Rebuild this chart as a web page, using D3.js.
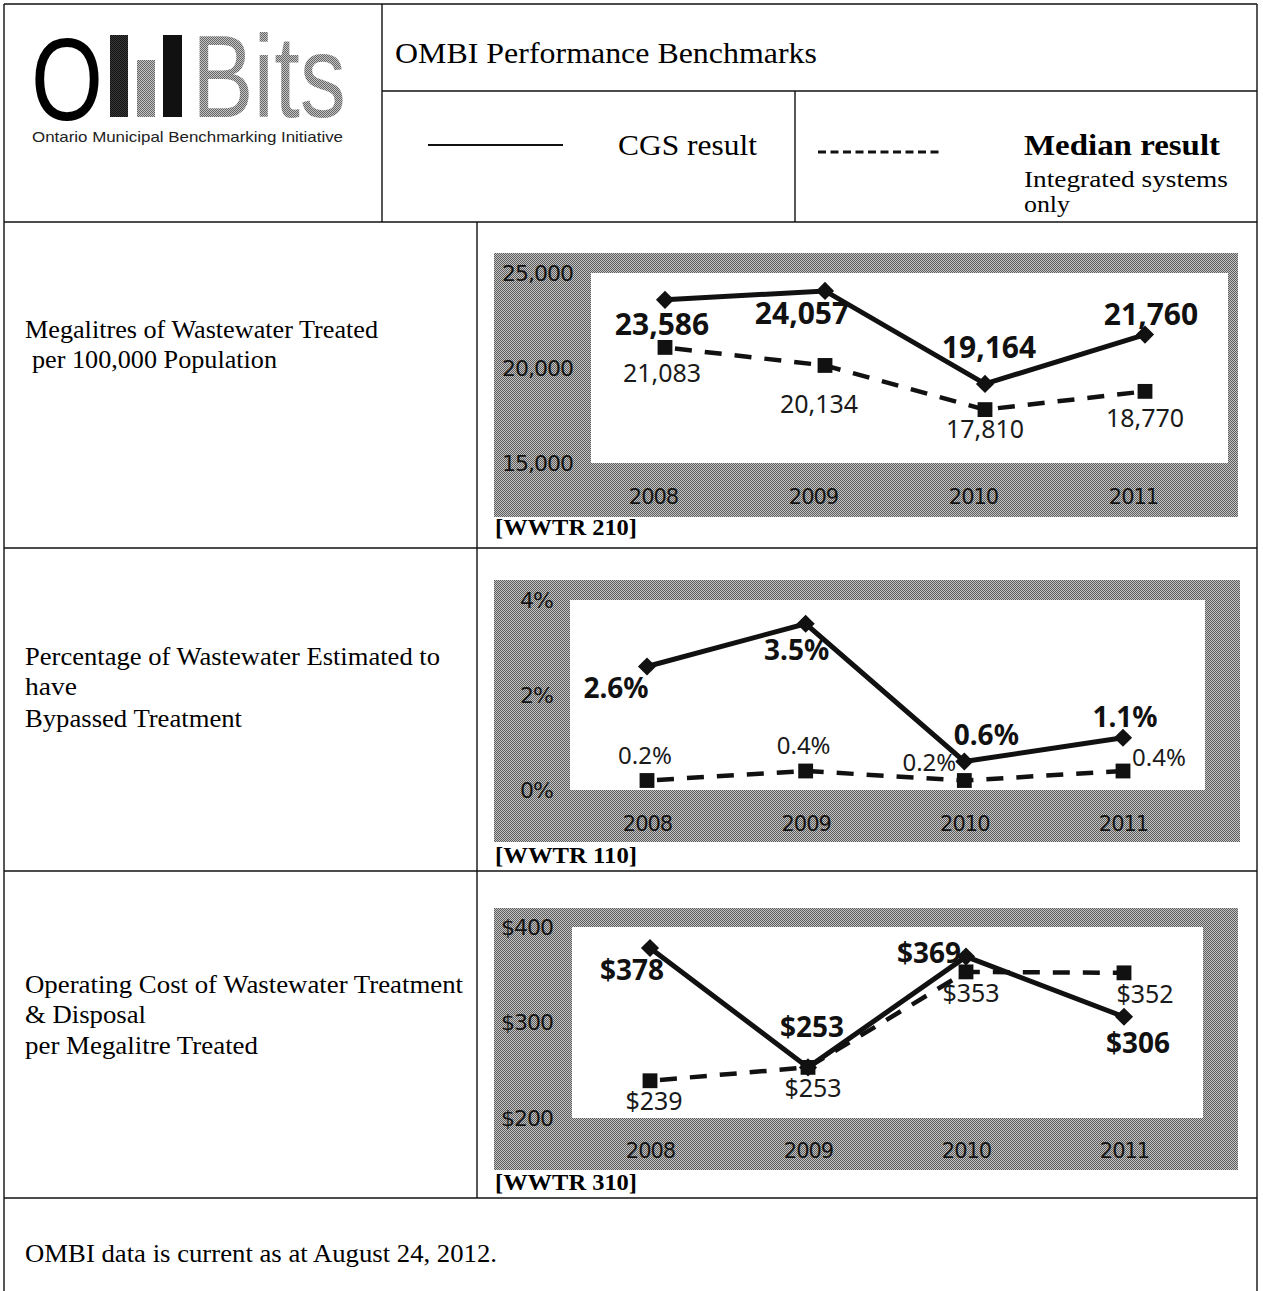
<!DOCTYPE html>
<html>
<head>
<meta charset="utf-8">
<script src="https://cdn.jsdelivr.net/npm/d3@7"></script>
<style>
  html, body { margin: 0; padding: 0; background: #fff; }
  svg { display: block; }
</style>
</head>
<body>
<script>
// ---- Data ----
const years = ["2008", "2009", "2010", "2011"];

// Megalitres of wastewater treated per 100,000 population
const treatedCGS = [23586, 24057, 19164, 21760];
const treatedMedian = [21083, 20134, 17810, 18770];
const treatedTicks = [15000, 20000, 25000];

// Percentage of wastewater estimated to have bypassed treatment
const bypassCGS = [2.6, 3.5, 0.6, 1.1];
const bypassMedian = [0.2, 0.4, 0.2, 0.4];
const bypassTicks = [0, 2, 4];

// Operating cost of wastewater treatment & disposal per megalitre
const costCGS = [378, 253, 369, 306];
const costMedian = [239, 253, 353, 352];
const costTicks = [200, 300, 400];

// ---- Page ----
const W = 1263, H = 1291;
const svg = d3.select("body").append("svg").attr("width", W).attr("height", H);
const defs = svg.append("defs");

function halftone(id, base, dot) {
  const p = defs.append("pattern").attr("id", id)
    .attr("width", 2).attr("height", 2).attr("patternUnits", "userSpaceOnUse");
  p.append("rect").attr("width", 2).attr("height", 2).attr("fill", base);
  p.append("rect").attr("x", 0).attr("y", 0).attr("width", 1).attr("height", 1).attr("fill", dot);
  p.append("rect").attr("x", 1).attr("y", 1).attr("width", 1).attr("height", 1).attr("fill", dot);
}
halftone("panelTone", "#c2c2c2", "#5e5e5e");
halftone("darkTone", "#3a3a3a", "#111");
halftone("midTone", "#c4c4c4", "#666");

const SERIF = "'Liberation Serif','Times New Roman',serif";
const SANS = "'Noto Sans','DejaVu Sans',sans-serif";

function serifText(str, x, y, size, width, bold) {
  svg.append("text")
    .attr("x", x).attr("y", y)
    .attr("font-family", SERIF)
    .attr("font-size", size)
    .attr("font-weight", bold ? "bold" : "normal")
    .attr("fill", "#000")
    .attr("textLength", width)
    .attr("lengthAdjust", "spacingAndGlyphs")
    .text(str);
}

// ---- Table rules ----
const rules = [
  [4, 4, 1257, 4],
  [4, 4, 4, H],
  [1257, 4, 1257, H],
  [382, 4, 382, 222],
  [382, 91, 1257, 91],
  [795, 91, 795, 222],
  [4, 222, 1257, 222],
  [477, 222, 477, 1198],
  [4, 548, 1257, 548],
  [4, 871, 1257, 871],
  [4, 1198, 1257, 1198]
];
svg.append("g").selectAll("line").data(rules).join("line")
  .attr("x1", d => d[0]).attr("y1", d => d[1])
  .attr("x2", d => d[2]).attr("y2", d => d[3])
  .attr("stroke", "#111").attr("stroke-width", 1.4);

// ---- Logo ----
const logo = svg.append("g");
logo.append("text")
  .attr("x", 31).attr("y", 120)
  .attr("font-family", "'Liberation Sans',Arial,sans-serif")
  .attr("font-size", 117)
  .attr("fill", "#000")
  .attr("textLength", 72).attr("lengthAdjust", "spacingAndGlyphs")
  .text("O");
logo.append("rect").attr("x", 110).attr("y", 35).attr("width", 18).attr("height", 82).attr("fill", "url(#darkTone)");
logo.append("rect").attr("x", 137).attr("y", 60).attr("width", 18).attr("height", 57).attr("fill", "url(#midTone)");
logo.append("rect").attr("x", 163).attr("y", 35).attr("width", 19).attr("height", 82).attr("fill", "#111");
logo.append("text")
  .attr("x", 192).attr("y", 117)
  .attr("font-family", "'Liberation Sans',Arial,sans-serif")
  .attr("font-size", 116)
  .attr("fill", "url(#midTone)")
  .attr("textLength", 154).attr("lengthAdjust", "spacingAndGlyphs")
  .text("Bits");
logo.append("text")
  .attr("x", 32).attr("y", 142)
  .attr("font-family", "'Liberation Sans',Arial,sans-serif")
  .attr("font-size", 14.5)
  .attr("fill", "#222")
  .attr("textLength", 311).attr("lengthAdjust", "spacingAndGlyphs")
  .text("Ontario Municipal Benchmarking Initiative");

// ---- Header & legend ----
serifText("OMBI Performance Benchmarks", 395, 63, 29, 422, false);

svg.append("line").attr("x1", 428).attr("x2", 563).attr("y1", 145).attr("y2", 145)
  .attr("stroke", "#111").attr("stroke-width", 2.2);
serifText("CGS result", 618, 155, 30, 139, false);

svg.append("line").attr("x1", 818).attr("x2", 942).attr("y1", 152).attr("y2", 152)
  .attr("stroke", "#111").attr("stroke-width", 3).attr("stroke-dasharray", "8,4.5");
serifText("Median result", 1024, 155, 30, 196, true);
serifText("Integrated systems", 1024, 187, 24, 204, false);
serifText("only", 1024, 212, 24, 46, false);

// ---- Row captions ----
serifText("Megalitres of Wastewater Treated", 25, 338, 25, 353, false);
serifText("per 100,000 Population", 32, 368, 25, 245, false);

serifText("Percentage of Wastewater Estimated to", 25, 665, 25, 415, false);
serifText("have", 25, 695, 25, 52, false);
serifText("Bypassed Treatment", 25, 727, 25, 217, false);

serifText("Operating Cost of Wastewater Treatment", 25, 993, 25, 438, false);
serifText("& Disposal", 25, 1023, 25, 121, false);
serifText("per Megalitre Treated", 25, 1054, 25, 233, false);

serifText("OMBI data is current as at August 24, 2012.", 25, 1262, 25, 472, false);

// ---- Charts ----
function drawChart(cfg) {
  const g = svg.append("g");
  const P = cfg.plot;

  g.append("rect")
    .attr("x", cfg.panel.x).attr("y", cfg.panel.y)
    .attr("width", cfg.panel.w).attr("height", cfg.panel.h)
    .attr("fill", "url(#panelTone)");
  g.append("rect")
    .attr("x", P.x).attr("y", P.y).attr("width", P.w).attr("height", P.h)
    .attr("fill", "#fff");

  const x = d3.scalePoint().domain(years).range(cfg.xRange);
  const y = d3.scaleLinear().domain(cfg.yDomain).range([P.y + P.h, P.y]);

  // value axis
  const yAxis = d3.axisLeft(y).tickValues(cfg.ticks).tickFormat(cfg.tickFormat)
    .tickSize(0).tickPadding(0);
  g.append("g")
    .attr("transform", `translate(${cfg.yLabelRight},0)`)
    .call(yAxis)
    .call(a => a.select(".domain").remove())
    .selectAll("text")
    .attr("font-family", "'DejaVu Sans',sans-serif")
    .attr("font-size", 22)
    .attr("letter-spacing", -1)
    .attr("fill", "#141414");

  // year axis
  const xAxis = d3.axisBottom(x).tickSize(0).tickPadding(0);
  g.append("g")
    .attr("transform", `translate(${cfg.xLabelShift},${cfg.xLabelBaseline})`)
    .call(xAxis)
    .call(a => a.select(".domain").remove())
    .selectAll("text")
    .attr("y", 0).attr("dy", 0)
    .attr("font-family", "'DejaVu Sans',sans-serif")
    .attr("font-size", 21)
    .attr("letter-spacing", -1)
    .attr("fill", "#141414");

  const line = d3.line().x((d, i) => x(years[i])).y(d => y(d));

  g.append("path").datum(cfg.median)
    .attr("d", line)
    .attr("fill", "none").attr("stroke", "#111")
    .attr("stroke-width", 4.5).attr("stroke-dasharray", "17,13")
    .attr("stroke-dashoffset", -10);

  g.append("path").datum(cfg.cgs)
    .attr("d", line)
    .attr("fill", "none").attr("stroke", "#111")
    .attr("stroke-width", 5).attr("stroke-linejoin", "miter");

  g.selectAll(".sq").data(cfg.median).join("path")
    .attr("class", "sq")
    .attr("d", d3.symbol(d3.symbolSquare, 220))
    .attr("transform", (d, i) => `translate(${x(years[i])},${y(d)})`)
    .attr("fill", "#111");

  g.selectAll(".dm").data(cfg.cgs).join("path")
    .attr("class", "dm")
    .attr("d", d3.symbol(d3.symbolSquare, 165))
    .attr("transform", (d, i) => `translate(${x(years[i])},${y(d)}) rotate(45)`)
    .attr("fill", "#111");

  g.selectAll(".cgsLabel").data(cfg.cgs).join("text")
    .attr("class", "cgsLabel")
    .attr("x", (d, i) => x(years[i]) + cfg.cgsOffsets[i][0])
    .attr("y", (d, i) => y(d) + cfg.cgsOffsets[i][1])
    .attr("text-anchor", "middle")
    .attr("font-family", SANS)
    .attr("font-weight", "bold")
    .attr("font-size", cfg.boldSize)
    .attr("fill", "#111")
    .text(cfg.valueFormat);

  g.selectAll(".medLabel").data(cfg.median).join("text")
    .attr("class", "medLabel")
    .attr("x", (d, i) => x(years[i]) + cfg.medianOffsets[i][0])
    .attr("y", (d, i) => y(d) + cfg.medianOffsets[i][1])
    .attr("text-anchor", "middle")
    .attr("font-family", SANS)
    .attr("font-size", cfg.plainSize)
    .attr("fill", "#1a1a1a")
    .text(cfg.valueFormat);

  serifText(cfg.code, 495, cfg.codeBaseline, 24, 142, true);
}

drawChart({
  panel: { x: 494, y: 253, w: 744, h: 264 },
  plot: { x: 591, y: 273, w: 637, h: 190 },
  xRange: [665, 1145],
  yDomain: [15000, 25000],
  ticks: treatedTicks,
  tickFormat: d3.format(","),
  valueFormat: d3.format(","),
  yLabelRight: 573,
  xLabelShift: -12,
  xLabelBaseline: 504,
  cgs: treatedCGS,
  median: treatedMedian,
  cgsOffsets: [[-3, 35], [-23, 33], [4, -26], [6, -10]],
  medianOffsets: [[-3, 35], [-6, 48], [0, 28], [0, 36]],
  boldSize: 30,
  plainSize: 25,
  code: "[WWTR 210]",
  codeBaseline: 535
});

drawChart({
  panel: { x: 494, y: 580, w: 746, h: 262 },
  plot: { x: 570, y: 600, w: 635, h: 190 },
  xRange: [647, 1123],
  yDomain: [0, 4],
  ticks: bypassTicks,
  tickFormat: d => d + "%",
  valueFormat: d => d.toFixed(1) + "%",
  yLabelRight: 553,
  xLabelShift: 0,
  xLabelBaseline: 831,
  cgs: bypassCGS,
  median: bypassMedian,
  cgsOffsets: [[-31, 31], [-9, 36], [22, -17], [2, -11]],
  medianOffsets: [[-2, -17], [-2, -17], [-35, -10], [36, -5]],
  boldSize: 28,
  plainSize: 24,
  code: "[WWTR 110]",
  codeBaseline: 863
});

drawChart({
  panel: { x: 494, y: 908, w: 744, h: 262 },
  plot: { x: 572, y: 927, w: 631, h: 191 },
  xRange: [650, 1124],
  yDomain: [200, 400],
  ticks: costTicks,
  tickFormat: d => "$" + d,
  valueFormat: d => "$" + d,
  yLabelRight: 553,
  xLabelShift: 0,
  xLabelBaseline: 1158,
  cgs: costCGS,
  median: costMedian,
  cgsOffsets: [[-18, 32], [4, -30], [-37, 6], [14, 36]],
  medianOffsets: [[4, 29], [5, 30], [5, 30], [21, 30]],
  boldSize: 28,
  plainSize: 25,
  code: "[WWTR 310]",
  codeBaseline: 1190
});
</script>
</body>
</html>
